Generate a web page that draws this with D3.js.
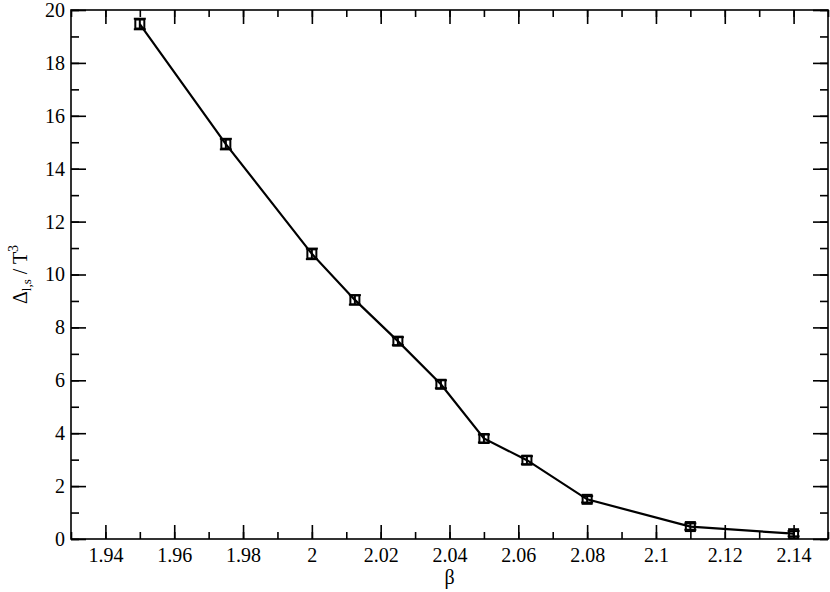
<!DOCTYPE html>
<meta charset="utf-8">
<script src="https://d3js.org/d3.v7.min.js"></script>
<style>
  body { margin: 0; background: #fff; }
</style>
<div id="chart"></div>
<script>
  // data
  var beta = [1.95, 1.975, 2.0, 2.0125, 2.025, 2.0375, 2.05, 2.0625, 2.08, 2.11, 2.14];
  var delta = [19.47, 14.93, 10.78, 9.04, 7.48, 5.85, 3.80, 2.98, 1.50, 0.47, 0.20];
  var err = [0.2, 0.2, 0.2, 0.18, 0.15, 0.15, 0.15, 0.15, 0.12, 0.12, 0.1];
  var xTicks = [1.94, 1.96, 1.98, 2.0, 2.02, 2.04, 2.06, 2.08, 2.1, 2.12, 2.14];
  var yTicks = [0, 2, 4, 6, 8, 10, 12, 14, 16, 18, 20];

  var W = 830, H = 592;
  var mLeft = 71, mRight = 828, mTop = 10, mBottom = 539;
  var serif = "'Liberation Serif', 'Times New Roman', Times, serif";

  var svg = d3.select("#chart").append("svg")
    .attr("width", W).attr("height", H)
    .attr("font-family", serif);

  var x = d3.scaleLinear().domain([1.93, 2.15]).range([mLeft, mRight]);
  var y = d3.scaleLinear().domain([0, 20]).range([mBottom, mTop]);

  var xMinor = d3.range(1.93, 2.1501, 0.01).map(function(v) { return +v.toFixed(2); });
  var yMinor = d3.range(0, 21, 1);

  // frame
  svg.append("rect")
    .attr("x", mLeft).attr("y", mTop)
    .attr("width", mRight - mLeft).attr("height", mBottom - mTop)
    .attr("fill", "none").attr("stroke", "#000").attr("stroke-width", 1.6);

  var fmt = function(d) { return String(+d.toFixed(2)); };

  // bottom axis, ticks pointing inward
  svg.append("g").attr("transform", "translate(0," + mBottom + ")")
    .call(d3.axisBottom(x).tickValues(xMinor).tickSize(-7).tickFormat(""))
    .call(function(g) { g.select(".domain").remove(); });
  svg.append("g").attr("transform", "translate(0," + mBottom + ")")
    .call(d3.axisBottom(x).tickValues(xTicks).tickSize(-14).tickFormat(fmt))
    .call(function(g) {
      g.attr("font-family", serif).attr("font-size", 20);
      g.select(".domain").remove();
      g.selectAll("text").attr("fill", "#000").attr("y", 9).attr("dy", "0.71em");
    });
  // top axis
  svg.append("g").attr("transform", "translate(0," + mTop + ")")
    .call(d3.axisTop(x).tickValues(xMinor).tickSize(-7).tickFormat(""))
    .call(function(g) { g.select(".domain").remove(); });
  svg.append("g").attr("transform", "translate(0," + mTop + ")")
    .call(d3.axisTop(x).tickValues(xTicks).tickSize(-14).tickFormat(""))
    .call(function(g) { g.select(".domain").remove(); });

  // left axis
  svg.append("g").attr("transform", "translate(" + mLeft + ",0)")
    .call(d3.axisLeft(y).tickValues(yMinor).tickSize(-8).tickFormat(""))
    .call(function(g) { g.select(".domain").remove(); });
  svg.append("g").attr("transform", "translate(" + mLeft + ",0)")
    .call(d3.axisLeft(y).tickValues(yTicks).tickSize(-15).tickFormat(d3.format("d")))
    .call(function(g) {
      g.attr("font-family", serif).attr("font-size", 20);
      g.select(".domain").remove();
      g.selectAll("text").attr("fill", "#000").attr("x", -6);
    });
  // right axis
  svg.append("g").attr("transform", "translate(" + mRight + ",0)")
    .call(d3.axisRight(y).tickValues(yMinor).tickSize(-8).tickFormat(""))
    .call(function(g) { g.select(".domain").remove(); });
  svg.append("g").attr("transform", "translate(" + mRight + ",0)")
    .call(d3.axisRight(y).tickValues(yTicks).tickSize(-15).tickFormat(""))
    .call(function(g) { g.select(".domain").remove(); });

  svg.selectAll(".tick line").attr("stroke", "#000").attr("stroke-width", 1.6);

  // line
  var pts = beta.map(function(b, i) { return [b, delta[i], err[i]]; });
  svg.append("path")
    .datum(pts)
    .attr("fill", "none").attr("stroke", "#000").attr("stroke-width", 2.2)
    .attr("d", d3.line().x(function(d) { return x(d[0]); }).y(function(d) { return y(d[1]); }));

  // error bars
  var eb = svg.append("g").attr("stroke", "#000").attr("stroke-width", 2);
  pts.forEach(function(d) {
    var cx = x(d[0]), y1 = y(d[1] + d[2]), y2 = y(d[1] - d[2]);
    eb.append("line").attr("x1", cx).attr("x2", cx).attr("y1", y1).attr("y2", y2);
    eb.append("line").attr("x1", cx - 6).attr("x2", cx + 6).attr("y1", y1).attr("y2", y1);
    eb.append("line").attr("x1", cx - 6).attr("x2", cx + 6).attr("y1", y2).attr("y2", y2);
  });

  // square markers
  svg.append("g").selectAll("rect").data(pts).enter().append("rect")
    .attr("x", function(d) { return x(d[0]) - 4.5; })
    .attr("y", function(d) { return y(d[1]) - 4.5; })
    .attr("width", 9).attr("height", 9)
    .attr("fill", "none").attr("stroke", "#000").attr("stroke-width", 2);

  // axis titles
  svg.append("text")
    .attr("x", (mLeft + mRight) / 2).attr("y", 584)
    .attr("text-anchor", "middle").attr("font-size", 20)
    .text("β");

  var yl = svg.append("text")
    .attr("transform", "translate(27," + ((mTop + mBottom) / 2) + ") rotate(-90)")
    .attr("text-anchor", "middle").attr("font-size", 20);
  yl.append("tspan").text("Δ");
  yl.append("tspan").attr("font-size", 13).attr("dy", 4).text("l,s");
  yl.append("tspan").attr("dy", -4).text(" / T");
  yl.append("tspan").attr("font-size", 14).attr("dy", -9).text("3");
</script>
